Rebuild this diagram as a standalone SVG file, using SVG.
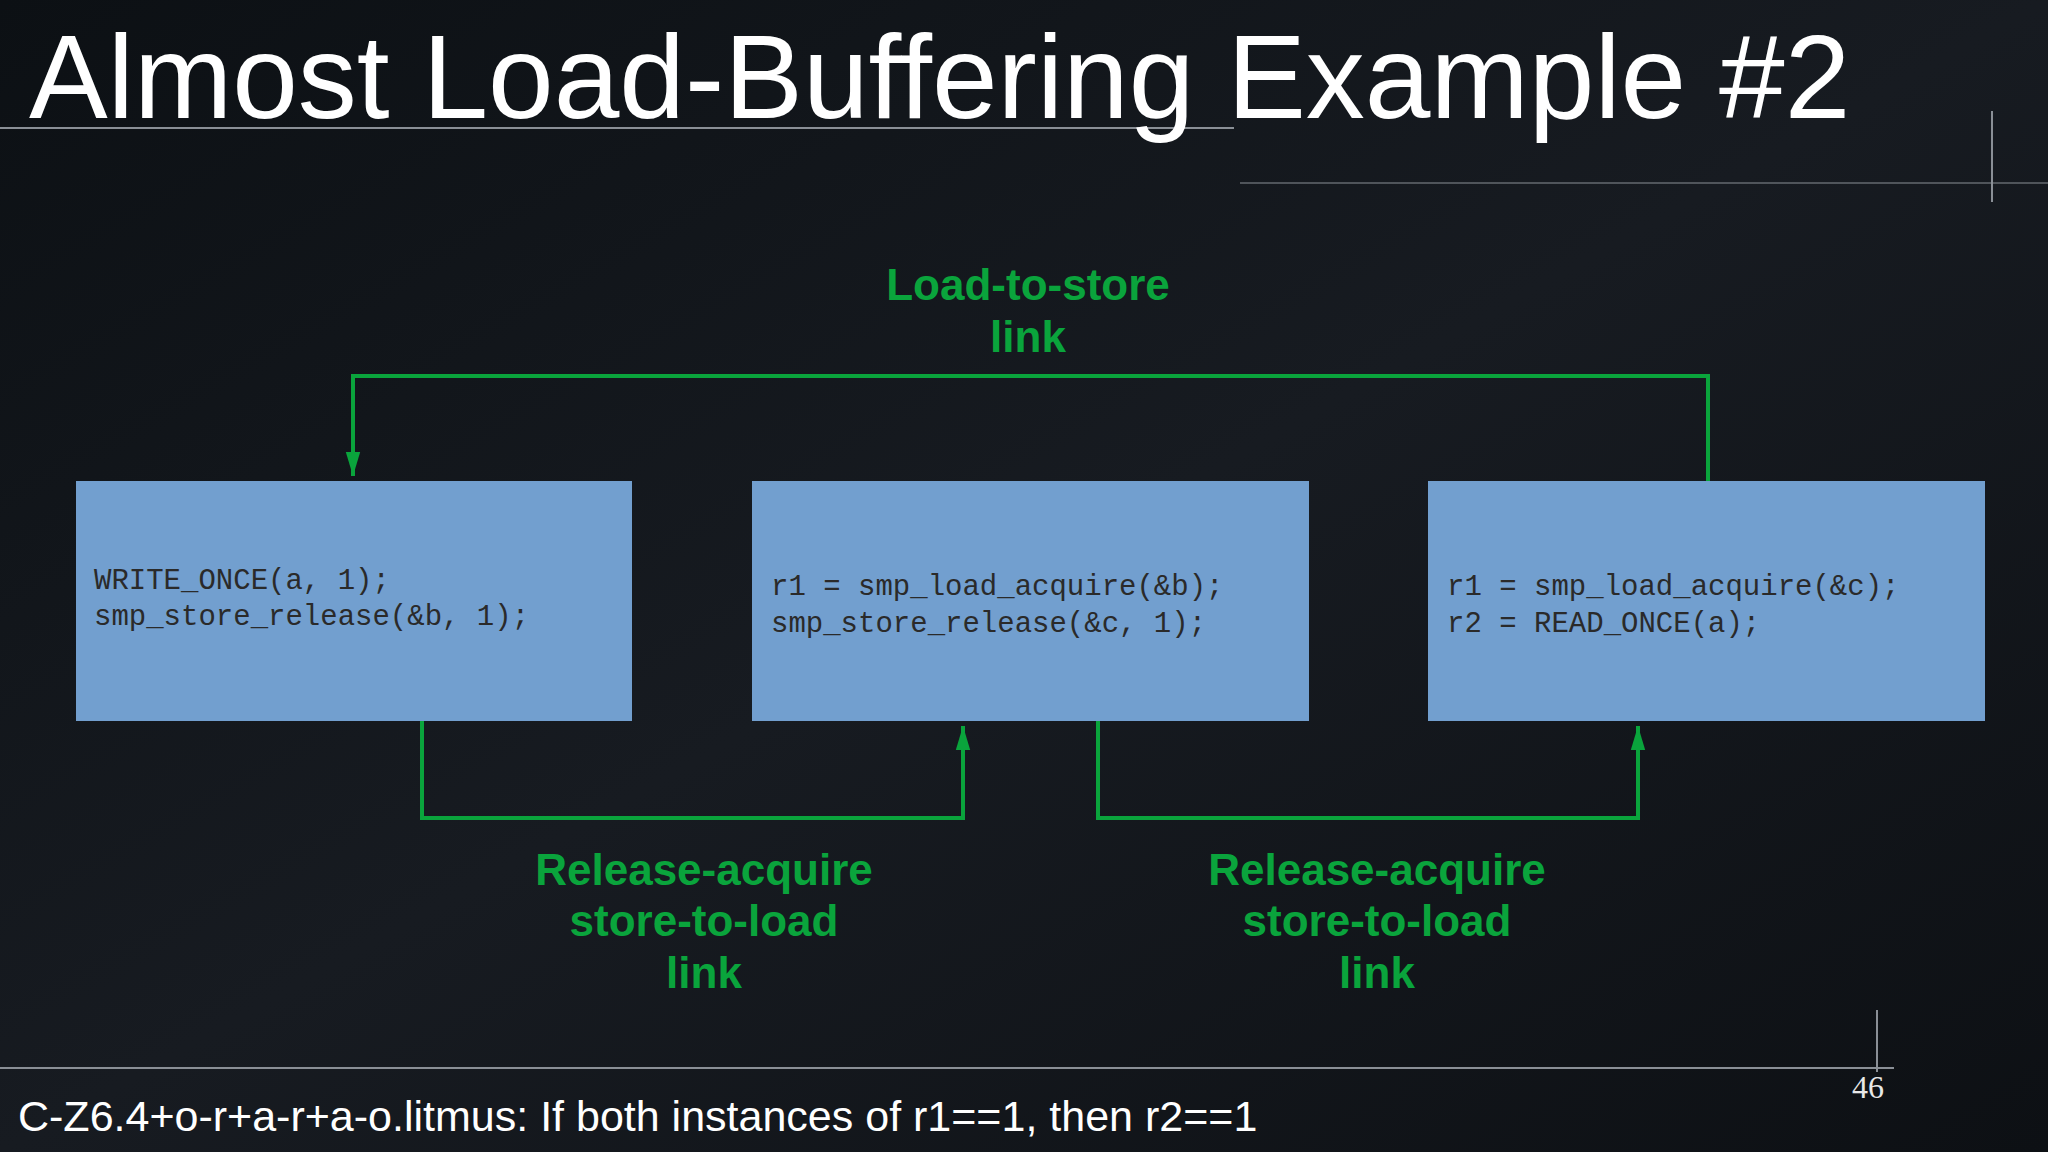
<svg xmlns="http://www.w3.org/2000/svg" width="2048" height="1152" viewBox="0 0 2048 1152">
<defs>
<marker id="ah" markerWidth="8" markerHeight="8" refX="7" refY="4" orient="auto" markerUnits="userSpaceOnUse" viewBox="0 0 8 8"><path d="M0,0 L8,4 L0,8 z" fill="#0aa43c"/></marker>
<marker id="arr" viewBox="0 0 10 10" refX="10" refY="5" markerWidth="24" markerHeight="48" markerUnits="userSpaceOnUse" orient="auto"><path d="M0,2 L10,5 L0,8 z" fill="#0aa43c"/></marker>
<linearGradient id="bg" x1="0" y1="0" x2="1" y2="1"><stop offset="0" stop-color="#0c1014"/><stop offset="0.5" stop-color="#171b21"/><stop offset="1" stop-color="#0d1014"/></linearGradient>
</defs>
<style>
.box{fill:#729fcf}
.code{font-family:"Liberation Mono",monospace;font-size:29px;fill:#2a2a2a}
.lbl{font-family:"Liberation Sans",Arial,sans-serif;font-size:44px;font-weight:bold;fill:#0aa43c;text-anchor:middle}
.con{fill:none;stroke:#0aa43c;stroke-width:4}
.deco{stroke:#8a8f96;stroke-width:2;fill:none}
</style>
<rect width="2048" height="1152" fill="url(#bg)"/>
<g id="decor">
<line class="deco" x1="0" y1="128" x2="1234" y2="128"/>
<line class="deco" x1="1240" y1="183" x2="2048" y2="183" stroke-opacity="0.5"/>
<line class="deco" x1="1992" y1="111" x2="1992" y2="202"/>
<line class="deco" x1="0" y1="1068" x2="1894" y2="1068"/>
<line class="deco" x1="1877" y1="1010" x2="1877" y2="1072"/>
</g>
<text x="29" y="118" font-family="Liberation Sans,Arial,sans-serif" font-size="118" fill="#ffffff">Almost Load-Buffering Example #2</text>
<text x="1852" y="1098" font-family="Liberation Serif,serif" font-size="32" fill="#e8e8e8">46</text>
<text x="18" y="1131" font-family="Liberation Sans,Arial,sans-serif" font-size="43" fill="#ffffff">C-Z6.4+o-r+a-r+a-o.litmus: If both instances of r1==1, then r2==1</text>
<g id="connectors">
<path class="con" d="M1708,481 V376 H353 V476" marker-end="url(#arr)"/>
<path class="con" d="M422,721 V818 H963 V726" marker-end="url(#arr)"/>
<path class="con" d="M1098,721 V818 H1638 V726" marker-end="url(#arr)"/>
</g>
<g id="n1"><rect class="box" x="76" y="481" width="556" height="240"/>
<text class="code" x="94" y="589">WRITE_ONCE(a, 1);</text>
<text class="code" x="94" y="625">smp_store_release(&amp;b, 1);</text></g>
<g id="n2"><rect class="box" x="752" y="481" width="557" height="240"/>
<text class="code" x="771" y="595">r1 = smp_load_acquire(&amp;b);</text>
<text class="code" x="771" y="632">smp_store_release(&amp;c, 1);</text></g>
<g id="n3"><rect class="box" x="1428" y="481" width="557" height="240"/>
<text class="code" x="1447" y="595">r1 = smp_load_acquire(&amp;c);</text>
<text class="code" x="1447" y="632">r2 = READ_ONCE(a);</text></g>
<g id="labels">
<text class="lbl" x="1028" y="300">Load-to-store</text>
<text class="lbl" x="1028" y="352">link</text>
<text class="lbl" x="704" y="885">Release-acquire</text>
<text class="lbl" x="704" y="936">store-to-load</text>
<text class="lbl" x="704" y="988">link</text>
<text class="lbl" x="1377" y="885">Release-acquire</text>
<text class="lbl" x="1377" y="936">store-to-load</text>
<text class="lbl" x="1377" y="988">link</text>
</g>
</svg>
